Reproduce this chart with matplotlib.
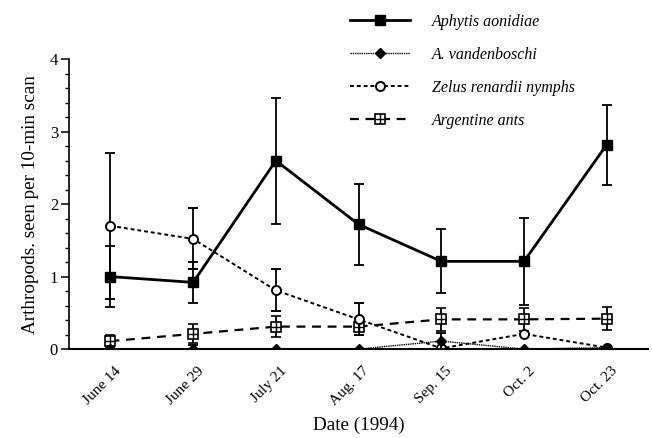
import matplotlib
matplotlib.use("Agg")
import matplotlib.pyplot as plt
import numpy as np
from matplotlib.ticker import MultipleLocator
from matplotlib.legend_handler import HandlerTuple
from matplotlib.lines import Line2D
from matplotlib.transforms import ScaledTranslation

dates = ["June 14", "June 29", "July 21", "Aug. 17", "Sep. 15", "Oct. 2", "Oct. 23"]

aphytis = [1.0, 0.92, 2.6, 1.72, 1.21, 1.21, 2.82]
aphytis_err = [0.42, 0.28, 0.87, 0.56, 0.44, 0.60, 0.55]

vanden = [0.0, 0.0, 0.0, 0.0, 0.11, 0.0, 0.02]
vanden_err = [0.0, 0.05, 0.0, 0.0, 0.11, 0.0, 0.0]

zelus = [1.7, 1.52, 0.81, 0.41, 0.01, 0.21, 0.02]
zelus_err = [1.01, 0.42, 0.29, 0.22, 0.0, 0.0, 0.0]

ants = [0.11, 0.21, 0.31, 0.31, 0.41, 0.41, 0.42]
ants_err = [0.08, 0.13, 0.15, 0.12, 0.16, 0.16, 0.16]

plt.rcParams['font.family'] = ['Liberation Serif', 'DejaVu Serif']

fig = plt.figure(figsize=(6.52, 4.38), dpi=100)
ax = fig.add_axes([0.106, 0.203, 0.888, 0.662])
x = np.arange(len(dates))

eb = dict(ecolor='black', elinewidth=1.3, capsize=3.6, capthick=1.3)

ax.errorbar(x, aphytis, yerr=aphytis_err, color='black', lw=2.0, marker='s',
            ms=7, mfc='black', mec='black', zorder=5, **eb)
ax.errorbar(x, vanden, yerr=vanden_err, color='black', lw=1.0, ls=(0, (1, 0.6)),
            marker='D', ms=5, mfc='black', mec='black', zorder=6, **eb)
ax.errorbar(x, zelus, yerr=zelus_err, color='black', lw=1.4, ls=(0, (2, 1.5)),
            marker='o', ms=6.5, mfc='white', mec='black', mew=1.4, zorder=4, **eb)
ax.errorbar(x, ants, yerr=ants_err, color='black', lw=1.6, ls=(0, (4, 3)),
            marker='s', ms=6.5, mfc='white', mec='black', mew=1.2, zorder=3, **eb)
ax.plot(x, ants, ls='none', marker='+', ms=6.5, mec='black', mew=1.0, zorder=3.5)

ax.set_xlim(-0.5, 6.5)
ax.set_ylim(0, 4)
ax.spines['top'].set_visible(False)
ax.spines['right'].set_visible(False)
ax.spines['left'].set_linewidth(1.2)
ax.spines['bottom'].set_linewidth(1.5)
ax.set_xticks(x)
ax.set_xticklabels(dates, rotation=45, ha='right', rotation_mode='anchor', fontsize=11)
ax.tick_params(axis='x', length=0, pad=11)
offset = ScaledTranslation(4 / 100, 0, fig.dpi_scale_trans)
for lab in ax.get_xticklabels():
    lab.set_transform(lab.get_transform() + offset)
ax.yaxis.set_major_locator(MultipleLocator(1))
ax.yaxis.set_minor_locator(MultipleLocator(0.2))
ax.tick_params(axis='y', which='major', length=6, width=1.1, labelsize=12, direction='out', pad=2)
ax.tick_params(axis='y', which='minor', length=3, width=1.0, direction='out')
ax.set_ylabel("Arthropods. seen per 10-min scan", fontsize=13.8, labelpad=8)
ax.set_xlabel("Date (1994)", fontsize=13.8, labelpad=6)

h1 = Line2D([], [], color='black', lw=2.0, marker='s', ms=7)
h2 = Line2D([], [], color='black', lw=1.0, ls=(0, (1, 0.6)), marker='D', ms=5)
h3 = Line2D([], [], color='black', lw=1.4, ls=(0, (2, 1.5)), marker='o', ms=6.5,
            mfc='white', mew=1.4)
h4a = Line2D([], [], color='black', lw=1.6, ls=(0, (4, 3)), marker='s', ms=6.5,
             mfc='white', mew=1.2)
h4b = Line2D([], [], ls='none', marker='+', ms=6.5, color='black', mew=1.0)
leg = fig.legend([h1, h2, h3, (h4a, h4b)],
                 ["Aphytis aonidiae", "A. vandenboschi", "Zelus renardii nymphs", "Argentine ants"],
                 handler_map={tuple: HandlerTuple(ndivide=1)},
                 loc='upper left', bbox_to_anchor=(350 / 652, 1 - 14 / 438), frameon=False,
                 borderpad=0, borderaxespad=0,
                 handlelength=3.75, labelspacing=1.06, handletextpad=1.4,
                 prop={'family': 'Liberation Serif', 'style': 'italic', 'size': 11.5})

fig.savefig("out.png", dpi=100)
